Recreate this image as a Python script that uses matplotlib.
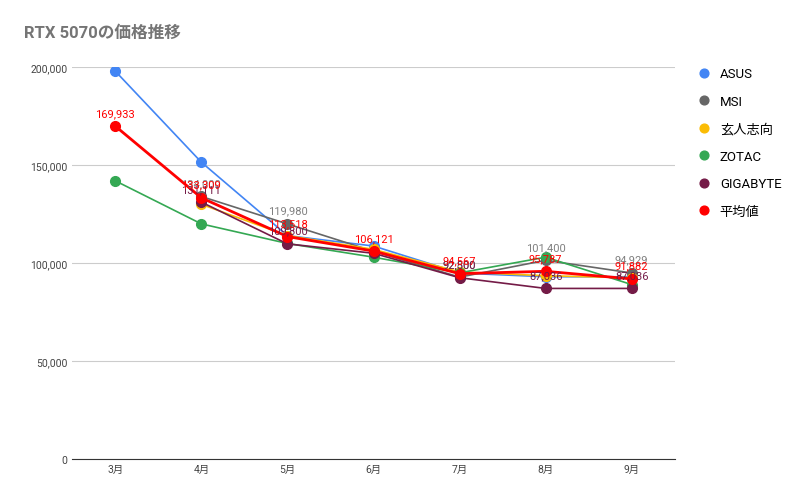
import matplotlib
matplotlib.use("Agg")
import matplotlib.pyplot as plt
import numpy as np
plt.rcParams["font.family"] = ["Roboto", "Noto Sans CJK JP"]

months = ["3月", "4月", "5月", "6月", "7月", "8月", "9月"]
asus = [198000, 151500, 114000, 108700, 94900, 93000, 93000]
msi = [np.nan, 134000, 119980, 106000, 92800, 101400, 94929]
kuroto = [np.nan, 130000, 114000, 107000, 95500, 93500, 92500]
zotac = [142000, 120000, 110000, 103000, 95000, 103000, 89000]
gigabyte = [np.nan, 131111, 109800, 105000, 92500, 87036, 87036]
average = [169933, 133309, 113518, 106121, 94567, 95787, 91882]

series = [
    ("ASUS", asus, "#4285f4", 1.2, False),
    ("MSI", msi, "#666666", 1.2, True),
    ("玄人志向", kuroto, "#fbbc04", 1.2, False),
    ("ZOTAC", zotac, "#34a853", 1.2, False),
    ("GIGABYTE", gigabyte, "#741b47", 1.2, True),
    ("平均値", average, "#ff0000", 2.0, True),
]

fig = plt.figure(figsize=(8.12, 5.02), dpi=100)
ax = fig.add_axes([0.089, 0.084, 0.742, 0.78])
x = np.arange(len(months))
for name, vals, c, lw, lab in series:
    ax.plot(x, vals, color=c, lw=lw, marker="o", ms=7, label=name)
    if lab:
        lc = "#ff0000" if name == "平均値" else ("#808080" if name == "MSI" else "#741b47")
        for xi, v in zip(x, vals):
            if np.isnan(v) or (name != "平均値" and xi == 3):
                continue
            ax.annotate(f"{v:,.0f}", (xi, v), xytext=(0, 6), textcoords="offset points",
                        ha="center", va="bottom", fontsize=8, color=lc)

ax.set_xlim(-0.5, 6.5)
ax.set_ylim(0, 200000)
ax.set_yticks([0, 50000, 100000, 150000, 200000])
ax.set_yticklabels(["0", "50,000", "100,000", "150,000", "200,000"])
ax.set_xticks(x)
ax.set_xticklabels(months)
ax.tick_params(length=0, labelsize=7.5, colors="#444444")
ax.grid(axis="y", color="#cccccc", lw=0.8)
ax.set_axisbelow(True)
for s in ["top", "right", "left"]:
    ax.spines[s].set_visible(False)
ax.spines["bottom"].set_color("#333333")
fig.text(0.03, 0.925, "RTX 5070の価格推移", fontsize=12, color="#757575", fontweight="bold")
ax.legend(loc="upper left", bbox_to_anchor=(1.02, 1.03), frameon=False, fontsize=9.5,
          handlelength=0.8, markerscale=0.9, labelspacing=1.1)
for h in ax.get_legend().get_lines():
    h.set_linestyle("none")
fig.savefig("out.png")
